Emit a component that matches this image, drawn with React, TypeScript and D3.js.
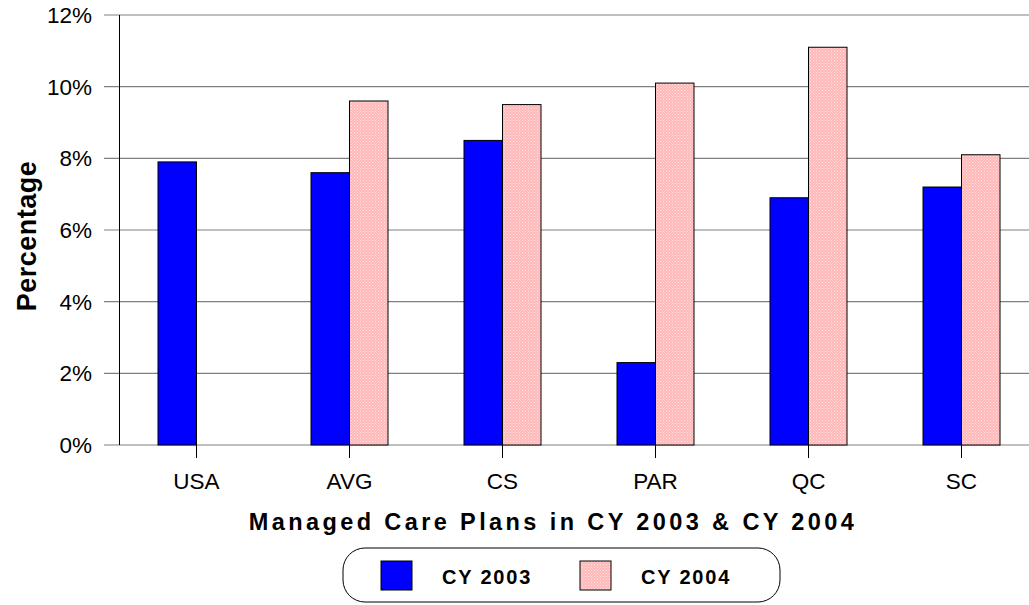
import React from "react";
import * as d3 from "d3";

const categories = ["USA", "AVG", "CS", "PAR", "QC", "SC"];
const cy2003 = [7.9, 7.6, 8.5, 2.3, 6.9, 7.2];
const cy2004: (number | null)[] = [null, 9.6, 9.5, 10.1, 11.1, 8.1];
const yTicks = [0, 2, 4, 6, 8, 10, 12];
const seriesNames = ["CY 2003", "CY 2004"];

const W = 1029, H = 605;
const left = 120, right = 1038, top = 15, bottom = 445;
const font = "'Liberation Sans', Arial, sans-serif";

export default function App() {
  const x = d3.scaleBand<string>().domain(categories).range([left, right]).paddingInner(0).paddingOuter(0);
  const y = d3.scaleLinear().domain([0, 12]).range([bottom, top]);
  const bw = 38.5;
  const series = [cy2003, cy2004];
  return (
    <svg width={W} height={H} style={{ position: "absolute", left: 0, top: 0, display: "block" }}>
      <defs>
        <pattern id="pinkpat" width="3" height="3" patternUnits="userSpaceOnUse">
          <rect width="3" height="3" fill="#ffb8b8" />
          <rect x="0" y="0" width="1" height="1" fill="#ffe4e4" />
          <rect x="1.5" y="1.5" width="1" height="1" fill="#ffdcdc" />
        </pattern>
      </defs>
      <rect width={W} height={H} fill="#fff" />
      {yTicks.map((t) => (
        <g key={t}>
          <line x1={104} x2={W} y1={y(t)} y2={y(t)} stroke="#808080" strokeWidth={1.2} />
          <text x={92} y={y(t) + 8} textAnchor="end" fontFamily={font} fontSize={22.5}>{t}%</text>
        </g>
      ))}
      <line x1={left - 0.5} x2={left - 0.5} y1={top} y2={bottom} stroke="#000" strokeWidth={1} />
      {categories.map((c) => (
        <g key={c}>
          <line x1={x(c)! + x.bandwidth() / 2} x2={x(c)! + x.bandwidth() / 2} y1={bottom} y2={bottom + 13} stroke="#000" />
          <text x={x(c)! + x.bandwidth() / 2} y={489} textAnchor="middle" fontFamily={font} fontSize={22.5}>{c}</text>
        </g>
      ))}
      {series.map((vals, si) =>
        vals.map((v, i) => {
          if (v == null) return null;
          const cx = x(categories[i])! + x.bandwidth() / 2;
          const x0 = si === 0 ? cx - bw : cx;
          return (
            <rect key={si + "-" + i} x={x0} y={y(v)} width={bw} height={bottom - y(v)}
              fill={si === 0 ? "#0000ff" : "url(#pinkpat)"} stroke="#000" strokeWidth={1} />
          );
        })
      )}
      <text x={553} y={530} textAnchor="middle" fontFamily={font} fontSize={23.5} fontWeight="bold" letterSpacing={3.4}>
        Managed Care Plans in CY 2003 &amp; CY 2004
      </text>
      <text transform={`translate(36,236) rotate(-90)`} textAnchor="middle" fontFamily={font} fontSize={27} fontWeight="bold" letterSpacing={0.5}>
        Percentage
      </text>
      <rect x={343} y={548} width={437} height={54} rx={22} ry={22} fill="#fff" stroke="#000" strokeWidth={1} />
      <rect x={381} y={561} width={31} height={29} fill="#0000ff" stroke="#000" />
      <text x={442} y={584} fontFamily={font} fontSize={20} fontWeight="bold" letterSpacing={1.8}>{seriesNames[0]}</text>
      <rect x={580} y={561} width={31} height={29} fill="url(#pinkpat)" stroke="#000" />
      <text x={641} y={584} fontFamily={font} fontSize={20} fontWeight="bold" letterSpacing={1.8}>{seriesNames[1]}</text>
    </svg>
  );
}
